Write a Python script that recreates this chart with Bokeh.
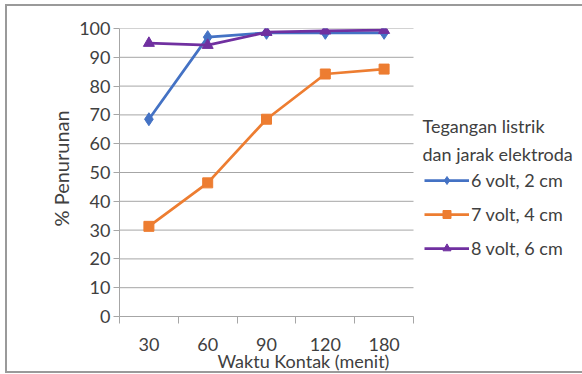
from bokeh.plotting import figure
from bokeh.models import (Range1d, FixedTicker, Legend, LegendItem, Title, Label,
                          ColumnDataSource)
from bokeh.embed import file_html
from bokeh.resources import INLINE

# Contact time categories (minutes) and removal percentages per voltage/electrode gap
categories = ["30", "60", "90", "120", "180"]
series_names = ["6 volt, 2 cm", "7 volt, 4 cm", "8 volt, 6 cm"]
removal_6v = [68.5, 97.0, 98.5, 98.5, 98.5]
removal_7v = [31.3, 46.4, 68.5, 84.2, 85.9]
removal_8v = [94.9, 94.2, 98.7, 99.2, 99.4]
y_ticks = list(range(0, 101, 10))

FONT = "Lato"
FS = "18px"
TEXT = "#404040"
GRID = "#a6a6a6"
BORDER = "2px solid #9a9a9a"

W, H = 577, 369            # outer size of the chart box
LEFT, TOP, BOTTOM = 112, 22, 59
PLOT_W = 294               # width of the category area in px
n = len(categories)

# category slots: one unit per category, marks at slot centres
xpos = [i + 0.5 for i in range(n)]
bounds = list(range(n + 1))

# the frame runs to the right edge so the legend can sit inside it;
# the category area occupies the first n units
x_end = n * (W - LEFT) / PLOT_W
p = figure(width=W, height=H, output_backend="svg", toolbar_location=None,
           x_range=Range1d(0, x_end), y_range=Range1d(0, 100))
p.min_border_left = LEFT
p.min_border_right = 0
p.min_border_top = TOP
p.min_border_bottom = BOTTOM
p.outline_line_color = None
p.background_fill_color = "white"
p.border_fill_color = "white"
# chart area border
p.margin = (4, 0, 0, 5)
p.styles = {"border-left": BORDER, "border-top": BORDER,
            "border-bottom": BORDER, "border-right": "none"}

# horizontal gridlines across the category area only
p.xgrid.grid_line_color = None
p.ygrid.grid_line_color = None
p.segment(x0=[0] * len(y_ticks), x1=[n] * len(y_ticks), y0=y_ticks, y1=y_ticks,
          line_color=GRID, line_width=1, level="underlay")

# y axis
p.yaxis.ticker = FixedTicker(ticks=y_ticks)
p.yaxis.major_tick_in = 0
p.yaxis.major_tick_out = 6
p.yaxis.minor_tick_line_color = None
p.yaxis.axis_line_color = GRID
p.yaxis.major_tick_line_color = GRID
p.yaxis.major_label_standoff = 3
p.yaxis.major_label_text_font = FONT
p.yaxis.major_label_text_font_size = FS
p.yaxis.major_label_text_color = TEXT

# x axis: labels at slot centres, tick marks at slot boundaries
p.xaxis.bounds = (0, n)
p.xaxis.ticker = FixedTicker(ticks=xpos, minor_ticks=bounds)
p.xaxis.major_label_overrides = {x: c for x, c in zip(xpos, categories)}
p.xaxis.major_tick_line_color = None
p.xaxis.major_tick_in = 0
p.xaxis.major_tick_out = 0
p.xaxis.minor_tick_in = 0
p.xaxis.minor_tick_out = 7
p.xaxis.minor_tick_line_color = GRID
p.xaxis.axis_line_color = GRID
p.xaxis.major_label_standoff = 14
p.xaxis.major_label_text_font = FONT
p.xaxis.major_label_text_font_size = FS
p.xaxis.major_label_text_color = TEXT

styles = [
    ("#4472C4", "diamond", 13),
    ("#ED7D31", "square", 10),
    ("#7030A0", "triangle", 11),
]
items = []
for name, vals, (color, marker, size) in zip(series_names,
                                             [removal_6v, removal_7v, removal_8v],
                                             styles):
    src = ColumnDataSource(dict(x=xpos, y=vals))
    ln = p.line("x", "y", source=src, line_color=color, line_width=2.75,
                line_join="round")
    mk = p.scatter("x", "y", source=src, marker=marker, size=size,
                   fill_color=color, line_color=color)
    items.append(LegendItem(label=name, renderers=[ln, mk]))

# axis titles
p.add_layout(Title(text="Waktu Kontak (menit)", align="left", offset=98,
                   standoff=-7, vertical_align="top", text_font=FONT,
                   text_font_size=FS, text_font_style="normal",
                   text_color=TEXT), "below")
p.add_layout(Title(text="% Penurunan", align="left", offset=90,
                   standoff=7, text_font=FONT, text_font_size="20px",
                   text_font_style="normal", text_color=TEXT), "left")

legend = Legend(items=items, location=(305, 57), orientation="vertical")
legend.background_fill_alpha = 0
legend.border_line_color = None
legend.glyph_width = 45
legend.glyph_height = 20
legend.label_height = 20
legend.label_standoff = 2
legend.spacing = 12
legend.padding = 0
legend.margin = 0
legend.label_text_font = FONT
legend.label_text_font_size = FS
legend.label_text_color = TEXT
p.add_layout(legend, "center")

# legend heading, two lines
for txt, y in [("Tegangan listrik", 191), ("dan jarak elektroda", 163)]:
    p.add_layout(Label(x=303, y=y, x_units="screen", y_units="screen", text=txt,
                       text_font=FONT, text_font_size=FS, text_color=TEXT,
                       text_align="left", text_baseline="middle"))

open("out.html", "w").write(file_html(p, INLINE))
